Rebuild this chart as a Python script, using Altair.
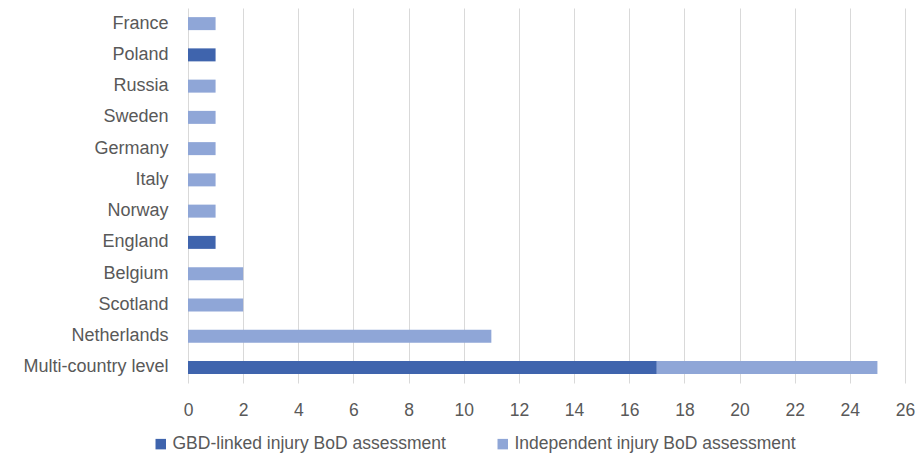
import altair as alt
import pandas as pd

countries = ["France", "Poland", "Russia", "Sweden", "Germany", "Italy", "Norway",
             "England", "Belgium", "Scotland", "Netherlands", "Multi-country level"]
gbd_linked = [0, 1, 0, 0, 0, 0, 0, 1, 0, 0, 0, 17]
independent = [1, 0, 1, 1, 1, 1, 1, 0, 2, 2, 11, 8]
series = ["GBD-linked injury BoD assessment", "Independent injury BoD assessment"]
colors = ["#3F64AD", "#8FA6D7"]
x_ticks = list(range(0, 27, 2))

rows = []
for c, g, i in zip(countries, gbd_linked, independent):
    rows.append({"country": c, "series": series[0], "value": g, "ord": 0})
    rows.append({"country": c, "series": series[1], "value": i, "ord": 1})
df = pd.DataFrame(rows)

FONT = "Liberation Sans"
GRAY = "#595959"

chart = alt.Chart(df).mark_bar(size=13).encode(
    y=alt.Y("country:N", sort=countries, title=None,
            axis=alt.Axis(ticks=False, domain=False, labelFontSize=18, labelFont=FONT,
                          labelColor=GRAY, labelPadding=20, labelLimit=300)),
    x=alt.X("value:Q", stack="zero", title=None,
            scale=alt.Scale(domain=[0, 26], nice=False),
            axis=alt.Axis(values=x_ticks, ticks=False, domain=False, labelFontSize=17.5,
                          labelFont=FONT, labelColor=GRAY, labelPadding=18,
                          labelFlush=False,
                          grid=True, gridColor="#D9D9D9", gridWidth=1)),
    color=alt.Color("series:N", sort=series,
                    scale=alt.Scale(domain=series, range=colors),
                    legend=alt.Legend(title=None, orient="none", direction="horizontal",
                                      legendX=-36, legendY=427, symbolType="square",
                                      symbolSize=110, symbolStrokeWidth=0,
                                      labelFontSize=17.5, labelFont=FONT, labelColor=GRAY,
                                      labelLimit=400, labelOffset=3, columnPadding=48)),
    order=alt.Order("ord:Q"),
).properties(
    width=717, height=375,
    autosize=alt.AutoSizeParams(type="none"),
    padding={"left": 180, "top": 0, "right": 10, "bottom": 72},
).configure_view(stroke=None)

chart.save("out.html", embed_options={"renderer": "svg", "actions": False})
